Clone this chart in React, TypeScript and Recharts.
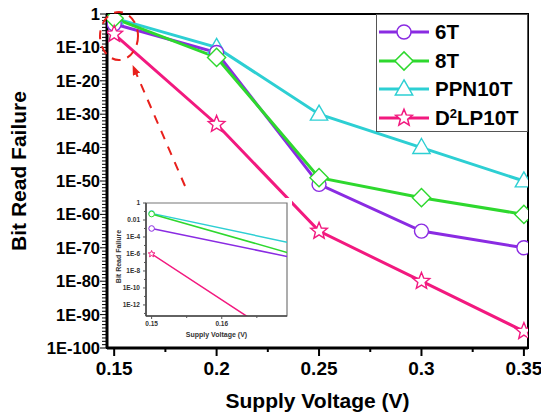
import React from 'react';
import { LineChart, Line, XAxis, YAxis, Legend, ReferenceArea, Label } from 'recharts';

// supply voltage sweep (V)
const voltages = [0.15, 0.2, 0.25, 0.3, 0.35];

// bit read failure probability per cell type
const sixT = [1e-3, 3e-12, 1e-51, 1e-65, 1e-70];
const eightT = [5e-2, 1e-13, 1e-49, 1e-55, 1e-60];
const ppn10T = [6e-2, 1e-10, 1e-30, 1e-40, 1e-50];
const d2lp10T = [1e-6, 1e-33, 1e-65, 1e-80, 1e-95];

const xMajorTicks = [0.15, 0.2, 0.25, 0.3, 0.35];
const xMinorTicks = [0.175, 0.225, 0.275, 0.325];
const yLabelTicks = [1, 1e-10, 1e-20, 1e-30, 1e-40, 1e-50, 1e-60, 1e-70, 1e-80, 1e-90, 1e-100];

const insetXMajor = [0.15, 0.16];
const insetXMinor = [0.155, 0.165];
const insetYLabels = [1, 1e-2, 1e-4, 1e-6, 1e-8, 1e-10, 1e-12];

const FONT = '"Liberation Sans", Arial, sans-serif';

type Shape = 'circle' | 'diamond' | 'triangle' | 'star';

const series: { key: string; name: string; color: string; shape: Shape; values: number[] }[] = [
  { key: 'ppn10T', name: 'PPN10T', color: '#2dcfd3', shape: 'triangle', values: ppn10T },
  { key: 'sixT', name: '6T', color: '#8a2be2', shape: 'circle', values: sixT },
  { key: 'eightT', name: '8T', color: '#2ed82e', shape: 'diamond', values: eightT },
  { key: 'd2lp10T', name: 'D2LP10T', color: '#f2197f', shape: 'star', values: d2lp10T },
];
const legendOrder = ['sixT', 'eightT', 'ppn10T', 'd2lp10T'];

const rows = voltages.map((v, i) => {
  const row: Record<string, number> = { v };
  series.forEach((s) => (row[s.key] = s.values[i]));
  return row;
});

// every decade gets a small tick on the main y axis, labels only on yLabelTicks
const yAllTicks = Array.from({ length: 101 }, (_, i) => Math.pow(10, -i));
const insetYAll = Array.from({ length: 14 }, (_, i) => Math.pow(10, -i));

const isLabelled = (list: number[], v: number) =>
  list.some((t) => Math.abs(Math.log10(t) - Math.log10(v)) < 1e-6);

const fmtExp = (v: number) => {
  const e = Math.round(Math.log10(v));
  return e === 0 ? '1' : `1E${e}`;
};
const fmtInset = (v: number) => {
  const e = Math.round(Math.log10(v));
  if (e === 0) return '1';
  if (e === -2) return '0.01';
  return `1E${e}`;
};

function Marker({ kind, cx, cy, size, color, sw }: { kind: Shape; cx: number; cy: number; size: number; color: string; sw: number }) {
  if (cx == null || cy == null) return null;
  const common = { fill: '#fff', stroke: color, strokeWidth: sw };
  if (kind === 'circle') return <circle cx={cx} cy={cy} r={size} {...common} />;
  if (kind === 'diamond') {
    const d = size * 1.3;
    return <polygon points={`${cx},${cy - d} ${cx + d},${cy} ${cx},${cy + d} ${cx - d},${cy}`} {...common} />;
  }
  if (kind === 'triangle') {
    const d = size * 1.3;
    return <polygon points={`${cx},${cy - d} ${cx + d * 0.95},${cy + d * 0.65} ${cx - d * 0.95},${cy + d * 0.65}`} {...common} />;
  }
  const pts: string[] = [];
  for (let i = 0; i < 10; i++) {
    const r = i % 2 === 0 ? size * 1.25 : size * 0.55;
    const a = -Math.PI / 2 + (i * Math.PI) / 5;
    pts.push(`${cx + r * Math.cos(a)},${cy + r * Math.sin(a)}`);
  }
  return <polygon points={pts.join(' ')} {...common} />;
}

const dotFor = (shape: Shape, color: string, size: number, sw: number) => (p: any) => (
  <Marker key={`${shape}-${p.index}`} kind={shape} cx={p.cx} cy={p.cy} size={size} color={color} sw={sw} />
);

const XTick = (props: any) => {
  const { x, y, payload } = props;
  const major = xMajorTicks.includes(payload.value);
  return (
    <g>
      <line x1={x} x2={x} y1={y} y2={y + (major ? 8 : 4)} stroke="#000" strokeWidth={2} />
      {major && (
        <text x={x} y={y + 27} textAnchor="middle" fontFamily={FONT} fontWeight="bold" fontSize={19} fill="#000">
          {String(payload.value)}
        </text>
      )}
    </g>
  );
};

const YTick = (props: any) => {
  const { x, y, payload } = props;
  const major = isLabelled(yLabelTicks, payload.value);
  return (
    <g>
      <line x1={x} x2={x - (major ? 7 : 5)} y1={y} y2={y} stroke="#000" strokeWidth={1} />
      {major && (
        <text x={x - 7} y={y} dy="0.36em" textAnchor="end" fontFamily={FONT} fontWeight="bold" fontSize={16.5} fill="#000">
          {fmtExp(payload.value)}
        </text>
      )}
    </g>
  );
};

const InsetXTick = (props: any) => {
  const { x, y, payload } = props;
  const major = insetXMajor.includes(payload.value);
  return (
    <g>
      <line x1={x} x2={x} y1={y} y2={y + (major ? 3 : 2)} stroke="#555" strokeWidth={1} />
      {major && (
        <text x={x} y={y + 10} textAnchor="middle" fontFamily={FONT} fontWeight="bold" fontSize={6.5} fill="#333">
          {String(payload.value)}
        </text>
      )}
    </g>
  );
};

const InsetYTick = (props: any) => {
  const { x, y, payload } = props;
  const major = isLabelled(insetYLabels, payload.value);
  return (
    <g>
      <line x1={x} x2={x - (major ? 3 : 2)} y1={y} y2={y} stroke="#555" strokeWidth={1} />
      {major && (
        <text x={x - 6} y={y} dy="0.36em" textAnchor="end" fontFamily={FONT} fontWeight="bold" fontSize={6.5} fill="#333">
          {fmtInset(payload.value)}
        </text>
      )}
    </g>
  );
};

const LegendBox = () => (
  <div
    style={{
      border: '1.5px solid #555',
      background: '#fff',
      boxSizing: 'border-box',
      width: 152,
      height: 118,
      paddingTop: 3,
      fontFamily: FONT,
    }}
  >
    {legendOrder.map((k) => {
      const s = series.find((d) => d.key === k)!;
      return (
        <div key={k} style={{ display: 'flex', alignItems: 'center', height: 28.5 }}>
          <svg width={56} height={24} style={{ flex: 'none' }}>
            <line x1={2} x2={52} y1={12} y2={12} stroke={s.color} strokeWidth={3} />
            <Marker kind={s.shape} cx={27} cy={12} size={7} color={s.color} sw={1.5} />
          </svg>
          <span style={{ fontWeight: 'bold', fontSize: 20.5, color: '#000', marginLeft: 2, lineHeight: 1 }}>
            {k === 'd2lp10T' ? (
              <>
                D<sup style={{ fontSize: 13, verticalAlign: 7 }}>2</sup>LP10T
              </>
            ) : (
              s.name
            )}
          </span>
        </div>
      );
    })}
  </div>
);

export default function App() {
  return (
    <div style={{ position: 'absolute', left: 0, top: 0, width: 541, height: 413, background: '#fff' }}>
      <LineChart width={541} height={413} data={rows} margin={{ top: 14, right: 13, left: 0, bottom: 0 }}>
        <ReferenceArea x1={0.1465} x2={0.352} y1={1e-100} y2={1} fill="none" stroke="#000" strokeWidth={2} ifOverflow="visible" />
        <XAxis
          dataKey="v"
          type="number"
          domain={[0.1465, 0.352]}
          allowDataOverflow
          ticks={[...xMajorTicks, ...xMinorTicks]}
          interval={0}
          tickSize={0}
          tickMargin={0}
          tickLine={false}
          tick={<XTick />}
          axisLine={{ stroke: '#000', strokeWidth: 3 }}
          height={65}
        >
          <Label
            content={(p: any) => (
              <text x={p.viewBox.x + p.viewBox.width / 2} y={p.viewBox.y + 60} textAnchor="middle" fontFamily={FONT} fontWeight="bold" fontSize={21} fill="#000">
                Supply Voltage (V)
              </text>
            )}
          />
        </XAxis>
        <YAxis
          type="number"
          scale="log"
          domain={[1e-100, 1]}
          allowDataOverflow
          ticks={yAllTicks}
          interval={0}
          tickSize={0}
          tickMargin={0}
          tickLine={false}
          tick={<YTick />}
          axisLine={{ stroke: '#000', strokeWidth: 3 }}
          width={107}
        >
          <Label
            content={() => (
              <text x={18} y={171} transform="rotate(-90, 18, 171)" textAnchor="middle" dominantBaseline="central" fontFamily={FONT} fontWeight="bold" fontSize={21} fill="#000">
                Bit Read Failure
              </text>
            )}
          />
        </YAxis>
        {series.map((s) => (
          <Line
            key={s.key}
            dataKey={s.key}
            name={s.name}
            stroke={s.color}
            strokeWidth={3}
            isAnimationActive={false}
            dot={dotFor(s.shape, s.color, 7, 1.4)}
          />
        ))}
        <Legend
          layout="vertical"
          align="center"
          verticalAlign="middle"
          content={() => <LegendBox />}
          wrapperStyle={{ left: 376, top: 14, width: 152, height: 118 }}
        />
      </LineChart>

      {/* dashed callout: ellipse around the 0.15 V points and arrow down to the zoomed view */}
      <svg width={541} height={413} style={{ position: 'absolute', left: 0, top: 0, pointerEvents: 'none' }}>
        <defs>
          <marker id="arrowHead" markerUnits="userSpaceOnUse" markerWidth="10" markerHeight="8" refX="9" refY="4" orient="auto">
            <path d="M0,0 L10,4 L0,8 Z" fill="#e8201c" />
          </marker>
        </defs>
        <ellipse cx={119} cy={36} rx={19} ry={24} fill="none" stroke="#e8201c" strokeWidth={2} strokeDasharray="9 7" />
        <line x1={185} y1={186} x2={133} y2={66} stroke="#e8201c" strokeWidth={2} strokeDasharray="9 8" markerEnd="url(#arrowHead)" />
      </svg>

      <div style={{ position: 'absolute', left: 110, top: 198, width: 182, height: 142, background: '#fff' }}>
        <LineChart width={182} height={142} data={rows} margin={{ top: 5, right: 5, left: 0, bottom: 0 }}>
          <ReferenceArea x1={0.1492} x2={0.1693} y1={5e-14} y2={1} fill="none" stroke="#777" strokeWidth={1.2} ifOverflow="visible" />
          <XAxis
            dataKey="v"
            type="number"
            domain={[0.1492, 0.1693]}
            allowDataOverflow
            ticks={[...insetXMajor, ...insetXMinor]}
            interval={0}
            tickSize={0}
            tickMargin={0}
            tickLine={false}
            tick={<InsetXTick />}
            axisLine={{ stroke: '#444', strokeWidth: 1.5 }}
            height={24}
          >
            <Label
              content={(p: any) => (
                <text x={p.viewBox.x + p.viewBox.width / 2} y={p.viewBox.y + 21} textAnchor="middle" fontFamily={FONT} fontWeight="bold" fontSize={7} fill="#333">
                  Supply Voltage (V)
                </text>
              )}
            />
          </XAxis>
          <YAxis
            type="number"
            scale="log"
            domain={[5e-14, 1]}
            allowDataOverflow
            ticks={insetYAll}
            interval={0}
            tickSize={0}
            tickMargin={0}
            tickLine={false}
            tick={<InsetYTick />}
            axisLine={{ stroke: '#444', strokeWidth: 1.5 }}
            width={36}
          >
            <Label
              content={(p: any) => {
                const cy = p.viewBox.y + p.viewBox.height / 2 - 3;
                return (
                  <text x={8} y={cy} transform={`rotate(-90, 8, ${cy})`} textAnchor="middle" dominantBaseline="central" fontFamily={FONT} fontWeight="bold" fontSize={7} fill="#333">
                    Bit Read Failure
                  </text>
                );
              }}
            />
          </YAxis>
          {series.map((s) => (
            <Line
              key={s.key}
              dataKey={s.key}
              stroke={s.color}
              strokeWidth={1.5}
              isAnimationActive={false}
              dot={dotFor(s.shape === 'star' ? 'star' : 'circle', s.color, 2.8, 1)}
            />
          ))}
        </LineChart>
      </div>
    </div>
  );
}
